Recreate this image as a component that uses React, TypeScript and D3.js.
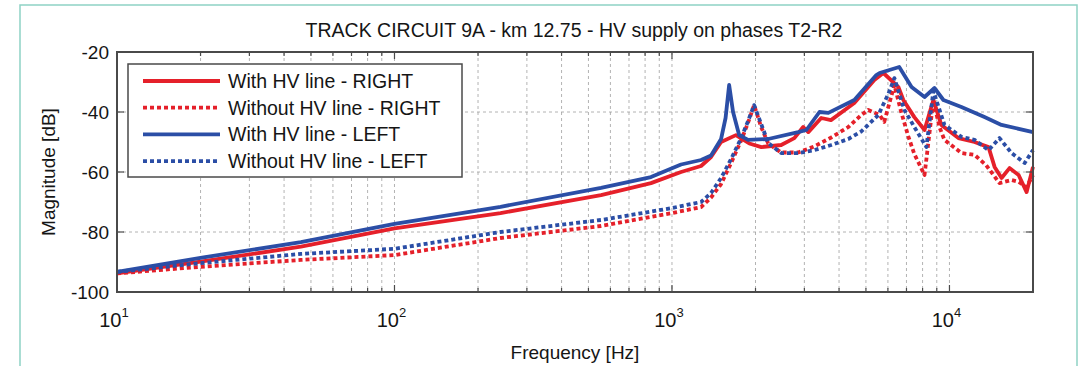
import * as d3 from "d3";

// [frequency Hz, magnitude dB]
const withRight: [number, number][] = [
  [10, -93.8], [20, -89.9], [46, -84.9], [100, -78.8], [241, -73.7], [555, -67.7], [840, -63.7],
  [1078, -60], [1273, -58], [1383, -55], [1503, -50], [1700, -47.7], [1900, -50.5], [2100, -51.7],
  [2475, -51], [2760, -48.7], [2970, -45], [3100, -46.7], [3450, -42], [3740, -42.7], [4540, -37],
  [5360, -29.3], [5780, -27], [6550, -31.7], [6820, -36], [7470, -41.7], [8130, -46], [8750, -36],
  [9350, -44.3], [10770, -48.7], [12310, -50], [13830, -51.7], [14540, -58.3], [15410, -62],
  [16460, -58.7], [17750, -61], [18970, -66.7], [20000, -58.3],
];

const withoutRight: [number, number][] = [
  [10, -93.8], [20, -91.6], [46, -89.3], [100, -87.7], [241, -82], [555, -78], [1000, -73.7],
  [1273, -71.7], [1383, -68.5], [1503, -64], [1633, -57], [1775, -49.5], [1881, -43.5], [1977, -37.7],
  [2096, -45], [2222, -50.5], [2475, -53.5], [2850, -53.5], [3255, -51.5], [3750, -48.5], [4320, -45],
  [4810, -41], [5100, -39.3], [5600, -41], [5820, -43.3], [6330, -31], [6700, -40], [7100, -48],
  [7470, -54], [8130, -61], [8750, -36], [9200, -45], [9590, -49.3], [11050, -53.7], [12310, -54.3],
  [13550, -57.7], [15150, -63.7], [16740, -62.7], [17750, -63.3], [18970, -65], [20000, -61],
];

const withLeft: [number, number][] = [
  [10, -93.3], [20, -88.6], [46, -83.4], [100, -77.3], [241, -71.6], [555, -65.3], [840, -61.7],
  [1078, -57.5], [1273, -56], [1383, -54.5], [1503, -49], [1560, -42], [1607, -31], [1660, -40],
  [1746, -47.7], [1881, -49.3], [2222, -49], [2850, -46.7], [3050, -46], [3400, -40], [3660, -40.3],
  [4540, -36], [5450, -27.7], [5600, -27], [6590, -25], [7300, -31.7], [8130, -35], [8830, -32],
  [9510, -36], [11040, -38.3], [13370, -41.7], [15400, -44.3], [20000, -46.7],
];

const withoutLeft: [number, number][] = [
  [10, -93.3], [20, -90.4], [46, -87.3], [100, -85.6], [241, -80], [555, -76], [1000, -72],
  [1273, -70], [1383, -67], [1503, -62], [1633, -55.7], [1775, -48.7], [1881, -43], [1977, -37.7],
  [2096, -44], [2222, -50.3], [2475, -53.7], [2850, -53.7], [3255, -52.7], [3750, -51], [4320, -49],
  [4810, -46.5], [5540, -41], [6020, -34], [6330, -28.7], [6880, -39.3], [7470, -45], [8260, -51.7],
  [8750, -33], [9590, -44.3], [11050, -48.3], [12310, -49.3], [13830, -52.7], [15150, -48.7],
  [16740, -53.7], [18660, -57], [20000, -52.7],
];

const seriesNames = [
  "With HV line - RIGHT",
  "Without HV line - RIGHT",
  "With HV line - LEFT",
  "Without HV line - LEFT",
];
const decadeExponents = [1, 2, 3, 4];
const yTicks = [-20, -40, -60, -80, -100];

const RED = "#e5202a";
const BLUE = "#2b4ea6";
const INK = "#151515";
const FONT = "Liberation Sans, Arial, sans-serif";

const W = 1086;
const H = 366;
const plot = { left: 117, right: 1033, top: 52, bottom: 292 };

export default function App() {
  const x = d3.scaleLog().domain([10, 20000]).range([plot.left, plot.right]);
  const y = d3.scaleLinear().domain([-100, -20]).range([plot.bottom, plot.top]);

  const line = d3
    .line<[number, number]>()
    .x((d) => x(d[0]))
    .y((d) => y(d[1]));

  const series = [
    { data: withRight, color: RED, dash: undefined },
    { data: withoutRight, color: RED, dash: "4 3" },
    { data: withLeft, color: BLUE, dash: undefined },
    { data: withoutLeft, color: BLUE, dash: "4 3" },
  ];

  // minor + major x ticks
  const xTickVals: { v: number; major: boolean }[] = [];
  decadeExponents.forEach((e) => {
    for (let m = 1; m <= 9; m++) {
      const v = m * Math.pow(10, e);
      if (v <= 20000) xTickVals.push({ v, major: m === 1 });
    }
  });

  const gridStroke = "#a0a0a0";
  const axisColor = "#4a4a4a";

  return (
    <svg
      width={W}
      height={H}
      style={{ position: "absolute", left: 0, top: 0, background: "#fff" }}
      fontFamily={FONT}
    >
      {/* outer frame */}
      <rect x={20} y={5} width={1057} height={380} fill="none" stroke="#8ed2c5" strokeWidth={1.5} />

      <text x={574} y={37} textAnchor="middle" fontSize={19.5} fill={INK}>
        TRACK CIRCUIT 9A - km 12.75 - HV supply on phases T2-R2
      </text>

      {/* grid */}
      <g stroke={gridStroke} strokeWidth={0.8} strokeDasharray="3 3">
        {xTickVals
          .filter((t) => t.v > 10)
          .map((t, i) => (
            <line key={i} x1={x(t.v)} x2={x(t.v)} y1={plot.top} y2={plot.bottom} />
          ))}
        {yTicks.slice(1, -1).map((t) => (
          <line key={t} x1={plot.left} x2={plot.right} y1={y(t)} y2={y(t)} />
        ))}
      </g>

      {/* curves */}
      <g fill="none" strokeWidth={3.8} strokeLinejoin="round">
        {series.map((s, i) => (
          <path key={i} d={line(s.data) || ""} stroke={s.color} strokeDasharray={s.dash} />
        ))}
      </g>

      {/* ticks */}
      <g stroke={axisColor} strokeWidth={1.2}>
        {xTickVals.map((t, i) => {
          const len = t.major ? 7 : 4;
          return (
            <g key={i}>
              <line x1={x(t.v)} x2={x(t.v)} y1={plot.bottom} y2={plot.bottom - len} />
              <line x1={x(t.v)} x2={x(t.v)} y1={plot.top} y2={plot.top + len} />
            </g>
          );
        })}
        {yTicks.map((t) => (
          <g key={t}>
            <line x1={plot.left} x2={plot.left + 7} y1={y(t)} y2={y(t)} />
            <line x1={plot.right} x2={plot.right - 7} y1={y(t)} y2={y(t)} />
          </g>
        ))}
      </g>

      <rect
        x={plot.left}
        y={plot.top}
        width={plot.right - plot.left}
        height={plot.bottom - plot.top}
        fill="none"
        stroke={axisColor}
        strokeWidth={2}
      />

      {/* y tick labels */}
      <g fontSize={19} fill={INK} textAnchor="end">
        {yTicks.map((t) => (
          <text key={t} x={plot.left - 8} y={y(t) + 7}>
            {t}
          </text>
        ))}
      </g>

      {/* x tick labels */}
      <g fill={INK}>
        {decadeExponents.map((e) => (
          <text key={e} x={x(Math.pow(10, e)) - 3} y={plot.bottom + 35} textAnchor="middle" fontSize={20}>
            10
            <tspan dy={-10} fontSize={13}>
              {e}
            </tspan>
          </text>
        ))}
      </g>

      <text x={575} y={359} textAnchor="middle" fontSize={19} fill={INK}>
        Frequency [Hz]
      </text>
      <text
        transform={`translate(55,${(plot.top + plot.bottom) / 2}) rotate(-90)`}
        textAnchor="middle"
        fontSize={19}
        fill={INK}
      >
        Magnitude [dB]
      </text>

      {/* legend */}
      <g>
        <rect x={128} y={64} width={334} height={113} fill="#fff" stroke={axisColor} strokeWidth={1.5} />
        {series.map((s, i) => {
          const ly = 81 + i * 26.7;
          return (
            <g key={i}>
              <line
                x1={143}
                x2={220}
                y1={ly}
                y2={ly}
                stroke={s.color}
                strokeWidth={3.8}
                strokeDasharray={s.dash}
              />
              <text x={228} y={ly + 7} fontSize={19.5} fill={INK}>
                {seriesNames[i]}
              </text>
            </g>
          );
        })}
      </g>
    </svg>
  );
}
